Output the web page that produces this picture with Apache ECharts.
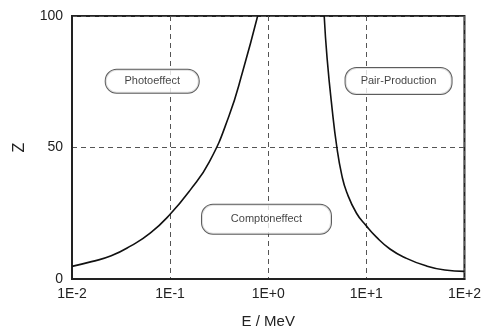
<!DOCTYPE html>
<html>
<head>
<meta charset="utf-8">
<script src="https://cdn.jsdelivr.net/npm/echarts@6/dist/echarts.min.js"></script>
<style>html,body{margin:0;padding:0;background:#fff}#c{width:484px;height:334px}</style>
</head>
<body>
<div id="c"></div>
<script>
// Boundary where photoeffect and Compton effect are equally likely: [E (MeV), Z]
const photoCompton = [[0.01,4.8],[0.0158,6.6],[0.0251,8.8],[0.0398,12.6],[0.0631,17.5],[0.1,24.6],[0.158,33.5],[0.251,44.5],[0.398,62],[0.55,79],[0.78,100]];
// Boundary where Compton effect and pair production are equally likely: [E (MeV), Z]
const comptonPair = [[3.72,100],[3.98,84],[4.47,65],[5.01,50],[5.62,39.5],[6.31,33],[7.94,25],[10,20.2],[12.6,16],[17.4,11.4],[25.1,8],[39.8,5.1],[63.1,3.4],[100,2.9]];
// Region labels: name, E, Z
const regionNames = ['Photoeffect','Comptoneffect','Pair-Production'];
const regionE = [0.0657, 0.96, 21.3];
const regionZ = [75.2, 22.7, 75.3];
const yTicks = [0, 50, 100];
const xAxisTitle = 'E / MeV';
const yAxisTitle = 'Z';

const boxSizes = [[93,23],[129,29],[106,26]];
const font = 'Liberation Sans, Arial, sans-serif';

const chart = echarts.init(document.getElementById('c'));
chart.setOption({
  animation: false,
  backgroundColor: '#fff',
  grid: {left: 72, right: 19, top: 16, bottom: 54, show: true, borderColor: '#222', borderWidth: 2, backgroundColor: 'transparent'},
  xAxis: {
    type: 'log', logBase: 10, min: 0.01, max: 100,
    name: xAxisTitle, nameLocation: 'middle', nameGap: 35,
    nameTextStyle: {fontFamily: font, fontSize: 15, color: '#222'},
    axisLine: {show: true, lineStyle: {color: '#222', width: 2}},
    axisTick: {show: false},
    minorTick: {show: false},
    axisLabel: {
      fontFamily: font, fontSize: 14, color: '#222', margin: 8,
      formatter: function (v) { const e = Math.round(Math.log10(v)); return '1E' + (e >= 0 ? '+' : '') + e; }
    },
    splitLine: {show: true, lineStyle: {color: '#555', type: [5,4], width: 1}}
  },
  yAxis: {
    type: 'value', min: yTicks[0], max: yTicks[yTicks.length-1], interval: 50,
    name: yAxisTitle, nameLocation: 'middle', nameGap: 44,
    nameTextStyle: {fontFamily: font, fontSize: 16, color: '#222'},
    axisLine: {show: true, lineStyle: {color: '#222', width: 2}},
    axisTick: {show: false},
    axisLabel: {fontFamily: font, fontSize: 14, color: '#222', margin: 9},
    splitLine: {show: true, lineStyle: {color: '#555', type: [5,4], width: 1}}
  },
  series: [
    {type: 'line', data: photoCompton, smooth: 0.5, symbol: 'none', clip: true, lineStyle: {color: '#111', width: 1.6}},
    {type: 'line', data: comptonPair, smooth: 0.5, symbol: 'none', clip: true, lineStyle: {color: '#111', width: 1.6}},
    {
      type: 'scatter', symbolSize: 1, itemStyle: {color: 'rgba(0,0,0,0)'}, z: 5, silent: true,
      data: regionNames.map((n, i) => ({
        name: n, value: [regionE[i], regionZ[i]],
        label: {
          show: true, position: 'inside', formatter: '{b}',
          width: boxSizes[i][0], height: boxSizes[i][1],
          align: 'center', verticalAlign: 'middle', lineHeight: boxSizes[i][1],
          fontFamily: font, fontSize: 11, color: '#111',
          backgroundColor: '#fff', borderColor: '#333', borderWidth: 1, borderRadius: 11
        }
      }))
    }
  ]
});
</script>
</body>
</html>
